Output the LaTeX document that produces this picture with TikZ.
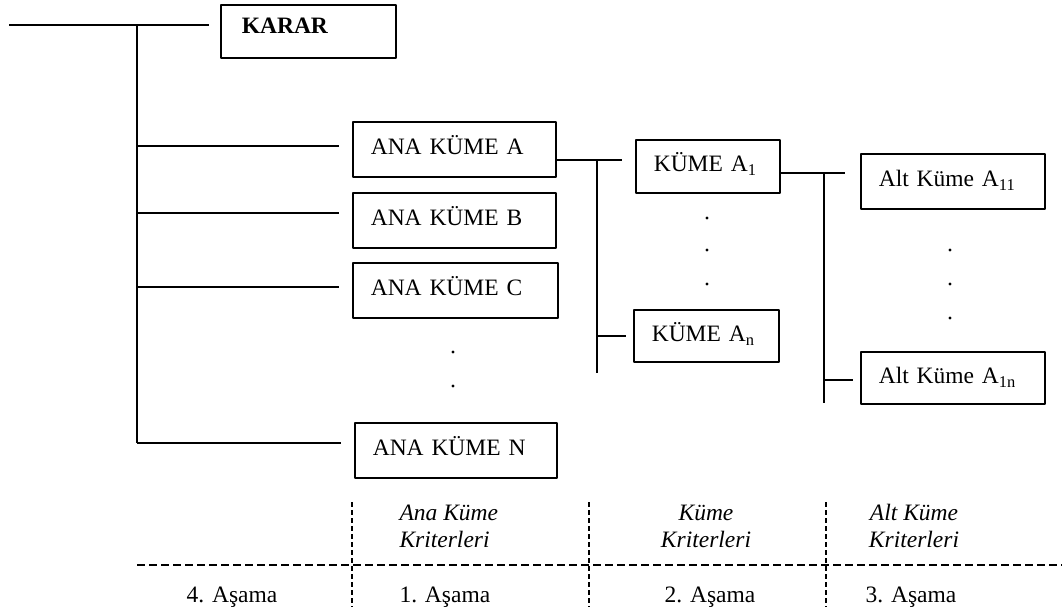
\documentclass[tikz,border=0pt]{standalone}
\usepackage{fontspec}
\setmainfont{Liberation Serif}
\begin{document}
\begin{tikzpicture}[x=1pt,y=-1pt,line join=round,font=\fontsize{23.5}{27}\selectfont]
\tikzset{
  hat/.style={line width=1.6pt},
  kutu/.style={draw,hat,inner xsep=18pt,inner ysep=0pt,text height=17pt,text depth=6pt,minimum height=55pt,anchor=north west,align=left},
  kesik/.style={line width=1.4pt,dash pattern=on 8pt off 4pt},
  ayrac/.style={line width=1.2pt,dash pattern=on 5pt off 3pt},
  etiket/.style={font=\fontsize{23.5}{27}\selectfont\itshape,align=left},
  nokta/.style={radius=1.6pt},
}
\useasboundingbox (0,0) rectangle (1062,611);
% kutular
\node[kutu,inner xsep=21pt,text width=133pt,minimum height=53pt,text depth=12pt] (karar) at (220,4) {\textbf{KARAR}};
\node[kutu,text width=167pt] (anaA) at (352,121) {ANA KÜME A};
\node[kutu,text width=167pt] (anaB) at (352,192) {ANA KÜME B};
\node[kutu,text width=169pt] (anaC) at (352,262) {ANA KÜME C};
\node[kutu,text width=166pt] (anaN) at (354,422) {ANA KÜME N};
\node[kutu,text width=108pt,minimum height=53pt] (kumeA1) at (635,139) {KÜME A\textsubscript{1}};
\node[kutu,text width=109pt,minimum height=52pt] (kumeAn) at (633,309) {KÜME A\textsubscript{n}};
\node[kutu,text width=148pt] (altA11) at (860,153) {Alt Küme A\textsubscript{11}};
\node[kutu,text width=148pt,minimum height=52pt] (altA1n) at (860,351) {Alt Küme A\textsubscript{1n}};
% baglantilar
\coordinate (bas) at (9,25);
\coordinate (govde) at (137,25);
\coordinate (j1) at (597,160);
\coordinate (j1son) at (597,373);
\coordinate (j2) at (824,173);
\coordinate (j2son) at (824,403);
\draw[hat,shorten >=11pt] (bas) -- (karar.west |- bas);
\draw[hat] (govde) -- ([yshift=7.5pt]anaN.west -| govde);
\foreach \n/\dy in {anaA/3.5,anaB/7.5,anaC/3.5,anaN/7.5}
  \draw[hat,shorten >=13pt] ([yshift=\dy pt]\n.west -| govde) -- ([yshift=\dy pt]\n.west);
\draw[hat,shorten >=13pt] (j1 -| anaA.east) -- (j1 -| kumeA1.west);
\draw[hat] (j1) -- (j1son);
\draw[hat,shorten >=7pt] (kumeAn.west -| j1) -- (kumeAn.west);
\draw[hat,shorten >=15pt] (j2 -| kumeA1.east) -- (j2 -| altA11.west);
\draw[hat] (j2) -- (j2son);
\draw[hat,shorten >=7pt] ([yshift=-2pt]altA1n.west -| j2) -- ([yshift=-2pt]altA1n.west);
% noktalar
\foreach \y in {352,386} \fill (453,\y) circle[nokta];
\foreach \y in {218,250,284} \fill (707,\y) circle[nokta];
\foreach \y in {250,284,318} \fill (950,\y) circle[nokta];
% asamalar
\draw[kesik] (govde |- 0,565) -- (1062,565);
\foreach \x in {352,589,826} \draw[ayrac] (\x,502) -- (\x,607);
\node[etiket,anchor=base west] (kritA) at (396,547) {Ana Küme\\Kriterleri};
\node[etiket,anchor=base,align=center] (kritK) at (706,547) {Küme\\Kriterleri};
\node[etiket,anchor=base,align=center] (kritAlt) at (914,547) {Alt Küme\\Kriterleri};
\node[anchor=base] (asama4) at (232,602) {4. Aşama};
\node[anchor=base west] (asama1) at (396,602) {1. Aşama};
\node[anchor=base] (asama2) at (710,602) {2. Aşama};
\node[anchor=base] (asama3) at (911,602) {3. Aşama};
\end{tikzpicture}
\end{document}
